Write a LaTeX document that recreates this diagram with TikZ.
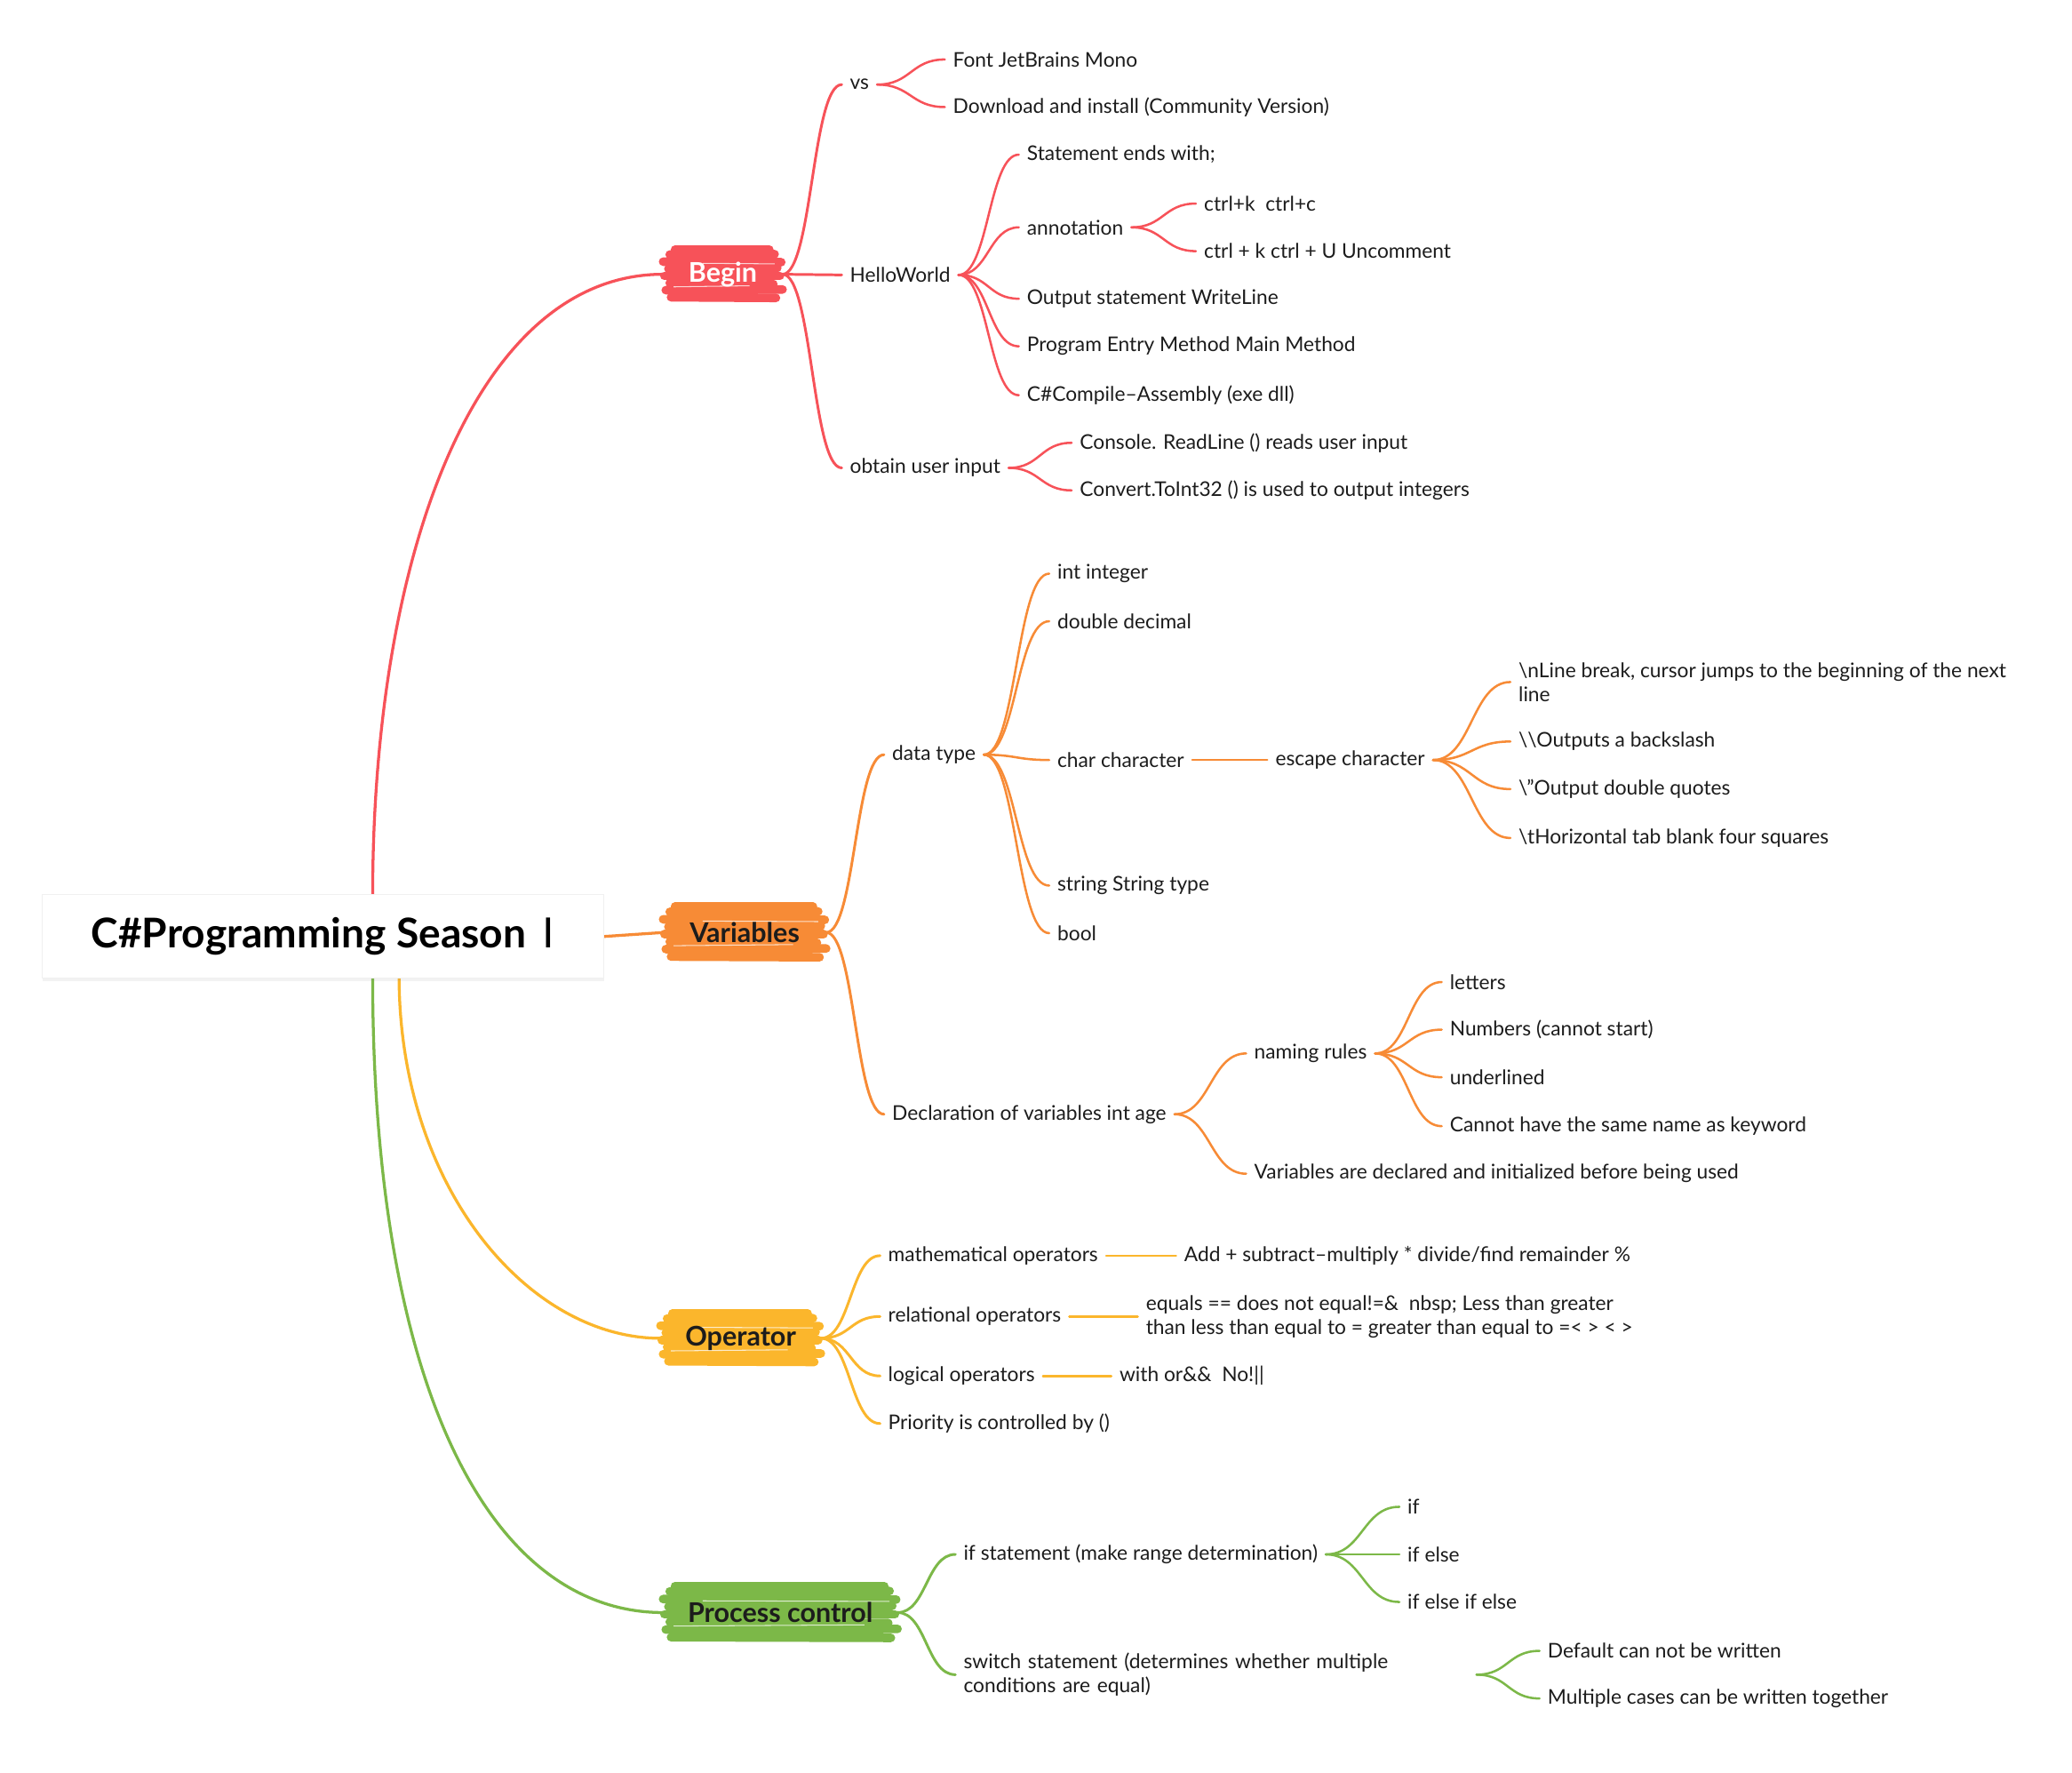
\documentclass[tikz,border=0pt]{standalone}
\usepackage{fontspec}
\setmainfont{Lato}
\newfontfamily\dv{DejaVu Sans}
\usetikzlibrary{calc,backgrounds,shadows}
\definecolor{cRed}{RGB}{247,82,89}
\definecolor{cOrange}{RGB}{247,139,54}
\definecolor{cYellow}{RGB}{251,182,44}
\definecolor{cGreen}{RGB}{124,184,72}
\definecolor{txt}{RGB}{28,28,28}
\tikzset{
  leaf/.style={anchor=west, inner xsep=6pt, inner ysep=2pt, align=left,
    font=\fontsize{15.3}{18}\selectfont, text=txt},
  branch/.style={inner sep=0pt, font=\fontsize{20.5}{24}\selectfont\bfseries, text=txt},
  link/.style={line width=1.7pt, line cap=round},
  mainlink/.style={line width=2.2pt, line cap=round},
}
\newcommand\lnk[4][1.7pt]{%
  \draw[line width=#1, line cap=round, #2] let \p1=(#3.east), \p2=(#4.west) in
    (\p1) .. controls ({0.5*\x1+0.5*\x2},\y1) and ({0.5*\x1+0.5*\x2},\y2) .. (\p2);}
\newcommand\brush[2]{%
  \foreach \f/\l/\r/\t in {0.08/3/-2/0.5, 0.21/-1/3/-0.5, 0.34/2/-4/0.8, 0.47/-2/1/0,
      0.6/1/-1/-0.6, 0.73/-3/2/0.4, 0.86/2/-3/-0.3, 0.95/6/-7/0}{
    \draw[#2, line width=6.5pt, line cap=round]
      ($(#1.south west)!\f!(#1.north west)+(\l+3,0)$) --
      ($(#1.south east)!\f!(#1.north east)+(\r-3,\t)$);}
  \draw[white, line width=0.7pt, opacity=0.75]
      ($(#1.south west)!0.27!(#1.north west)+(8,0)$) -- ($(#1.south east)!0.29!(#1.north east)+(-25,0)$);
  \draw[white, line width=0.7pt, opacity=0.75]
      ($(#1.south west)!0.7!(#1.north west)+(30,0)$) -- ($(#1.south east)!0.69!(#1.north east)+(-6,0)$);
}
\begin{document}
\begin{tikzpicture}[x=1pt,y=-1pt]
\useasboundingbox (0,0) rectangle (1568,1341);

% root
\node[fill=white, draw=black!6, line width=0.6pt, minimum width=425pt, minimum height=63pt, inner sep=0pt,
  drop shadow={opacity=0.10, shadow xshift=0pt, shadow yshift=-2pt},
  font=\fontsize{31}{36}\selectfont\bfseries, text=black] (root) at (244.5,708.5)
  {C\#Programming Season\, {\dv\mdseries Ⅰ}};

% branches
\node[branch, minimum width=90pt, minimum height=41pt, text=white] (begin) at (547,207.5) {Begin};
\node[branch, minimum width=123pt, minimum height=43pt] (vars) at (563.5,705.5) {Variables};
\node[branch, minimum width=121pt, minimum height=41pt] (oper) at (560.5,1012.5) {Operator};
\node[branch, minimum width=177pt, minimum height=44pt] (proc) at (590.5,1220) {Process control};

% Begin subtree
\node[leaf] (vs) at (637,64) {vs};
\node[leaf] (hw) at (637,208) {HelloWorld};
\node[leaf] (oui) at (637,354) {obtain user input};
\node[leaf] (font) at (715,45) {Font JetBrains Mono};
\node[leaf] (dl) at (715,81) {Download and install (Community Version)};
\node[leaf] (se) at (771,117) {Statement ends with;};
\node[leaf] (ann) at (771,172) {annotation};
\node[leaf] (ck) at (905,154) {ctrl+k\ \ ctrl+c};
\node[leaf] (cu) at (905,190) {ctrl + k ctrl + U Uncomment};
\node[leaf] (os) at (771,226) {Output statement WriteLine};
\node[leaf] (pe) at (771,262) {Program Entry Method Main Method};
\node[leaf] (cc) at (771,299) {C\#Compile–Assembly (exe dll)};
\node[leaf] (crl) at (811,335) {Console. ReadLine () reads user input};
\node[leaf] (cti) at (811,371) {Convert.ToInt32 () is used to output integers};

% Variables subtree
\node[leaf] (dt) at (669,571) {data type};
\node[leaf] (decl) at (669,843) {Declaration of variables int age};
\node[leaf] (ii) at (794,434) {int integer};
\node[leaf] (dd) at (794,470) {double decimal};
\node[leaf] (chc) at (794,575) {char character};
\node[leaf] (str) at (794,670) {string String type};
\node[leaf] (bool) at (794,706) {bool};
\node[leaf] (esc) at (959,575) {escape character};
\node[leaf] (nl) at (1143,516) {\textbackslash nLine break, cursor jumps to the beginning of the next\\line};
\node[leaf] (bs) at (1143,561) {\textbackslash\textbackslash Outputs a backslash};
\node[leaf] (dq) at (1143,597) {\textbackslash"Output double quotes};
\node[leaf] (tab) at (1143,634) {\textbackslash tHorizontal tab blank four squares};
\node[leaf] (nr) at (943,797) {naming rules};
\node[leaf] (vad) at (943,888) {Variables are declared and initialized before being used};
\node[leaf] (lett) at (1091,743) {letters};
\node[leaf] (num) at (1091,779) {Numbers (cannot start)};
\node[leaf] (und) at (1091,815) {underlined};
\node[leaf] (kw) at (1091,852) {Cannot have the same name as keyword};

% Operator subtree
\node[leaf] (math) at (666,950) {mathematical operators};
\node[leaf] (rel) at (666,996) {relational operators};
\node[leaf] (logi) at (666,1041) {logical operators};
\node[leaf] (pri) at (666,1077) {Priority is controlled by ()};
\node[leaf] (add) at (890,950) {Add + subtract–multiply * divide/find remainder \%};
\node[leaf] (eq) at (861,996) {equals == does not equal!=\&\ \ nbsp; Less than greater\\than less than equal to = greater than equal to =< > < >};
\node[leaf] (wo) at (841,1041) {with or\&\&\ \ No!||};

% Process control subtree
\node[leaf] (ifs) at (723,1176) {if statement (make range determination)};
\node[leaf, text width=382pt] (sw) at (723,1267) {switch statement (determines whether multiple\\conditions are equal)};
\node[leaf] (if1) at (1059,1140) {if};
\node[leaf] (if2) at (1059,1176) {if else};
\node[leaf] (if3) at (1059,1212) {if else if else};
\node[leaf] (def) at (1165,1249) {Default can not be written};
\node[leaf] (mc) at (1165,1285) {Multiple cases can be written together};

\begin{scope}[on background layer]
  \fill[white] (0,0) rectangle (1568,1341);
  \brush{begin}{cRed}
  \brush{vars}{cOrange}
  \brush{oper}{cYellow}
  \brush{proc}{cGreen}
  % root links
  \draw[mainlink, cRed] ($(root.north)+(37.5,2)$) .. controls +(0,-259) and +(-142,0) .. (begin.west);
  \draw[mainlink, cOrange] (root.east) -- (vars.west);
  \draw[mainlink, cYellow] ($(root.south)+(57.5,-2)$) .. controls +(0,160) and +(-100,0) .. (oper.west);
  \draw[mainlink, cGreen] ($(root.south)+(37.5,-2)$) .. controls +(0,310) and +(-132,0) .. (proc.west);
\end{scope}

% Begin links
\foreach \c in {vs,hw,oui} {\lnk[2pt]{cRed}{begin}{\c}}
\foreach \c in {font,dl} {\lnk{cRed}{vs}{\c}}
\foreach \c in {se,ann,os,pe,cc} {\lnk{cRed}{hw}{\c}}
\foreach \c in {ck,cu} {\lnk{cRed}{ann}{\c}}
\foreach \c in {crl,cti} {\lnk{cRed}{oui}{\c}}
% Variables links
\foreach \c in {dt,decl} {\lnk[2pt]{cOrange}{vars}{\c}}
\foreach \c in {ii,dd,chc,str,bool} {\lnk{cOrange}{dt}{\c}}
\lnk{cOrange}{chc}{esc}
\foreach \c in {nl,bs,dq,tab} {\lnk{cOrange}{esc}{\c}}
\foreach \c in {nr,vad} {\lnk{cOrange}{decl}{\c}}
\foreach \c in {lett,num,und,kw} {\lnk{cOrange}{nr}{\c}}
% Operator links
\foreach \c in {math,rel,logi,pri} {\lnk[2pt]{cYellow}{oper}{\c}}
\lnk{cYellow}{math}{add}
\lnk{cYellow}{rel}{eq}
\lnk{cYellow}{logi}{wo}
% Process links
\foreach \c in {ifs,sw} {\lnk[2pt]{cGreen}{proc}{\c}}
\foreach \c in {if1,if2,if3} {\lnk{cGreen}{ifs}{\c}}
\foreach \c in {def,mc} {\lnk{cGreen}{sw}{\c}}
\end{tikzpicture}
\end{document}
